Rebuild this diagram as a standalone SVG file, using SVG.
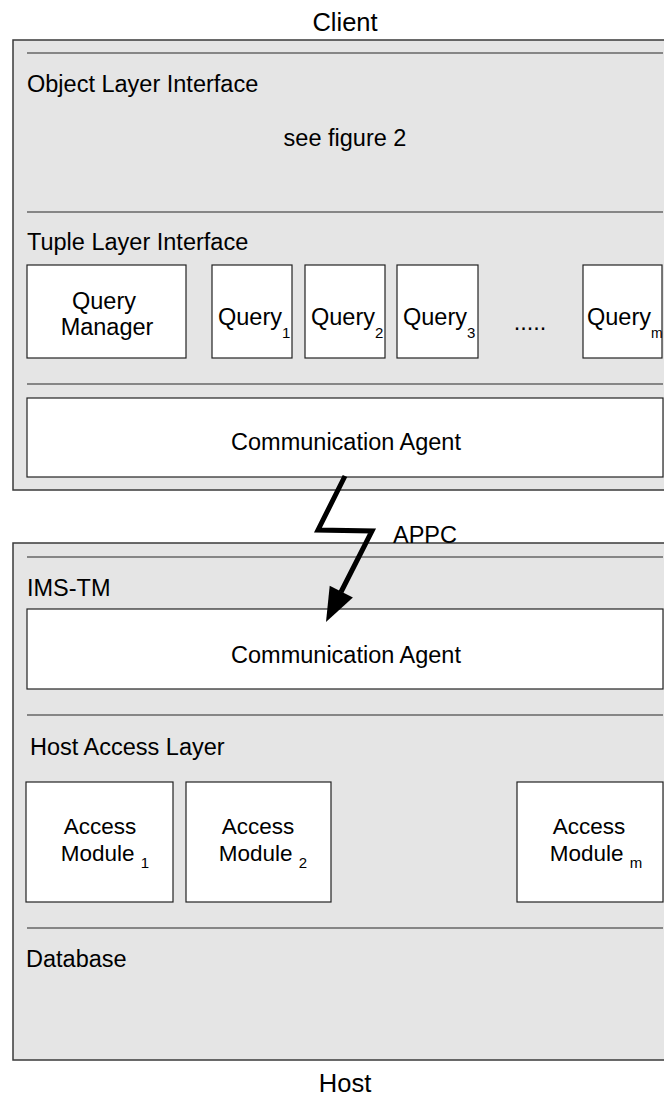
<svg xmlns="http://www.w3.org/2000/svg" width="664" height="1106" viewBox="0 0 664 1106">
<style>
.panel{fill:#e5e5e5;stroke:#3a3a3a;stroke-width:1.5}
.sep{stroke:#666;stroke-width:1.6;fill:none}
.box{fill:#fff;stroke:#222;stroke-width:1.2}
text{font-family:"Liberation Sans",Arial,Helvetica,sans-serif;font-size:23.5px;fill:#000}
.c{text-anchor:middle}
.title{font-size:25.5px}
.am{font-size:22.5px}
.sub{font-size:15px}
.bolt{fill:none;stroke:#000;stroke-width:5;stroke-linejoin:miter;stroke-linecap:butt}
</style>
<rect width="664" height="1106" fill="#fff"/>
<text class="title c" x="345" y="31">Client</text>
<g id="client">
  <rect class="panel" x="13" y="40" width="660" height="450"/>
  <line class="sep" x1="27" y1="53" x2="663" y2="53"/>
  <text x="27" y="92">Object Layer Interface</text>
  <text class="c" x="345" y="146">see figure 2</text>
  <line class="sep" x1="27" y1="212" x2="663" y2="212"/>
  <text x="27" y="250">Tuple Layer Interface</text>
  <line class="sep" x1="27" y1="384" x2="663" y2="384"/>
</g>
<g id="query-manager">
  <rect class="box" x="27" y="265" width="159" height="93"/>
  <text class="c" x="104" y="309">Query</text>
  <text class="c" x="107" y="335">Manager</text>
</g>
<g id="query1">
  <rect class="box" x="212" y="265" width="80" height="93"/>
  <text x="218" y="325">Query<tspan class="sub" dy="13">1</tspan></text>
</g>
<g id="query2">
  <rect class="box" x="305" y="265" width="80" height="93"/>
  <text x="311" y="325">Query<tspan class="sub" dy="13">2</tspan></text>
</g>
<g id="query3">
  <rect class="box" x="397" y="265" width="81" height="93"/>
  <text x="403" y="325">Query<tspan class="sub" dy="13">3</tspan></text>
</g>
<text class="c" x="530" y="330">.....</text>
<g id="query-m">
  <rect class="box" x="583" y="265" width="79" height="93"/>
  <text x="587" y="325">Query<tspan class="sub" style="font-size:14px" dy="13">m</tspan></text>
</g>
<g id="client-comm-agent">
  <rect class="box" x="27" y="398" width="636" height="79"/>
  <text class="c" x="346" y="450">Communication Agent</text>
</g>
<g id="host">
  <rect class="panel" x="13" y="543" width="660" height="517"/>
  <line class="sep" x1="27" y1="557" x2="663" y2="557"/>
  <text x="27" y="596">IMS-TM</text>
  <line class="sep" x1="27" y1="715" x2="663" y2="715"/>
  <text x="30" y="755">Host Access Layer</text>
  <line class="sep" x1="27" y1="928" x2="663" y2="928"/>
  <text x="26" y="967">Database</text>
</g>
<g id="host-comm-agent">
  <rect class="box" x="27" y="609" width="636" height="80"/>
  <text class="c" x="346" y="663">Communication Agent</text>
</g>
<g id="access-module-1">
  <rect class="box" x="26" y="782" width="147" height="120"/>
  <text class="c am" x="100" y="834">Access</text>
  <text class="c am" x="105" y="861">Module <tspan class="sub" dy="7">1</tspan></text>
</g>
<g id="access-module-2">
  <rect class="box" x="186" y="782" width="145" height="120"/>
  <text class="c am" x="258" y="834">Access</text>
  <text class="c am" x="263" y="861">Module <tspan class="sub" dy="7">2</tspan></text>
</g>
<g id="access-module-m">
  <rect class="box" x="517" y="782" width="146" height="120"/>
  <text class="c am" x="589" y="834">Access</text>
  <text class="c am" x="596" y="861">Module <tspan class="sub" dy="7">m</tspan></text>
</g>
<g id="connectors">
  <polyline class="bolt" points="345,476 318,530 372,531 341,592"/>
  <polygon points="326,622 329.7,585.8 352.9,597.6" fill="#000"/>
  <text x="393" y="543">APPC</text>
</g>
<text class="title c" x="345" y="1092">Host</text>
</svg>
